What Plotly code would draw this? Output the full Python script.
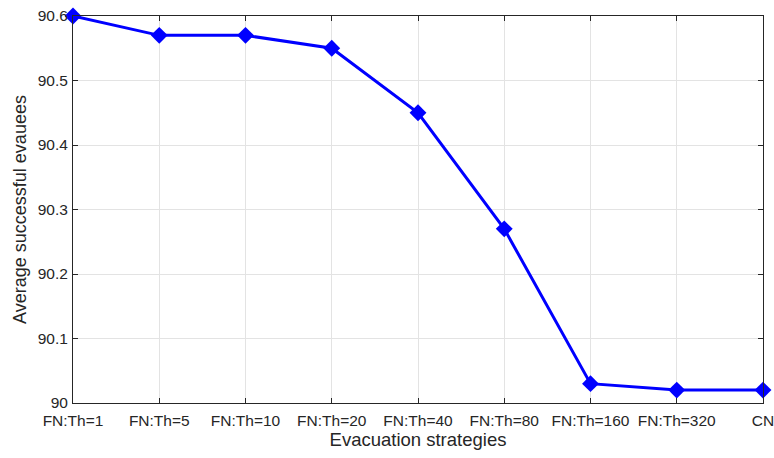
import plotly.graph_objects as go

categories = ["FN:Th=1", "FN:Th=5", "FN:Th=10", "FN:Th=20", "FN:Th=40",
              "FN:Th=80", "FN:Th=160", "FN:Th=320", "CN"]
values = [90.6, 90.57, 90.57, 90.55, 90.45, 90.27, 90.03, 90.02, 90.02]
y_ticks = [90, 90.1, 90.2, 90.3, 90.4, 90.5, 90.6]
y_ticklabels = ["90", "90.1", "90.2", "90.3", "90.4", "90.5", "90.6"]

FONT = "Liberation Sans, Arial, sans-serif"

fig = go.Figure()
fig.add_trace(go.Scatter(
    x=categories, y=values, mode="lines+markers",
    line=dict(color="#0000ff", width=3),
    marker=dict(symbol="diamond", size=13, color="#0000ff"),
    cliponaxis=False,
))

axis_common = dict(
    showline=True, linecolor="#262626", linewidth=1, mirror="ticks",
    ticks="inside", ticklen=5, tickcolor="#262626",
    showgrid=True, gridcolor="#e3e3e3", gridwidth=1,
    zeroline=False, automargin=False,
    tickfont=dict(family=FONT, size=15.5, color="#262626"),
)

fig.update_layout(
    width=774, height=458,
    margin=dict(l=73, r=11, t=16, b=55),
    paper_bgcolor="white", plot_bgcolor="white",
    showlegend=False,
    font=dict(family=FONT, color="#262626"),
    xaxis=dict(type="category", range=[0, len(categories) - 1],
               ticklabelstandoff=3,
               title=dict(text="Evacuation strategies", font=dict(size=18.5), standoff=5),
               **axis_common),
    yaxis=dict(range=[90, 90.6], tickvals=y_ticks, ticktext=y_ticklabels,
               ticklabelstandoff=1,
               title=dict(text="Average successful evauees", font=dict(size=18), standoff=6),
               **axis_common),
)

fig.write_html("out.html")
